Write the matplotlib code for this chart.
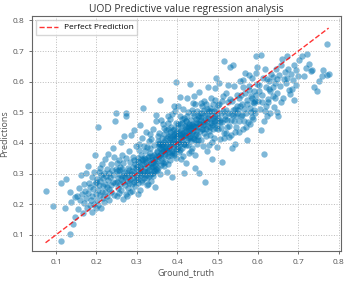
import numpy as np
import matplotlib
matplotlib.use('Agg')
import matplotlib.pyplot as plt

plt.rcParams['font.family'] = ['Open Sans', 'DejaVu Sans']

gt = [
    # 0.07 - 0.15
    0.074, 0.093, 0.111, 0.112, 0.122, 0.125, 0.135, 0.135, 0.137, 0.143, 0.146, 0.148,
    # 0.15 - 0.20
    0.152, 0.155, 0.158, 0.160, 0.162, 0.165, 0.167, 0.168, 0.170, 0.172,
    0.173, 0.175, 0.176, 0.178, 0.180, 0.181, 0.183, 0.185, 0.186, 0.188,
    0.189, 0.190, 0.192, 0.193, 0.195, 0.196, 0.197, 0.198, 0.199, 0.200,
    # 0.20 - 0.25
    0.201, 0.202, 0.203, 0.204, 0.205, 0.206, 0.207, 0.208, 0.209, 0.210,
    0.211, 0.212, 0.213, 0.214, 0.215, 0.216, 0.217, 0.218, 0.219, 0.220,
    0.221, 0.222, 0.224, 0.225, 0.226, 0.227, 0.228, 0.229, 0.230, 0.231,
    0.232, 0.234, 0.235, 0.236, 0.237, 0.238, 0.240, 0.241, 0.242, 0.243,
    0.244, 0.245, 0.246, 0.248, 0.249,
    # 0.25 - 0.30
    0.250, 0.251, 0.252, 0.253, 0.254, 0.255, 0.256, 0.257, 0.258, 0.259,
    0.260, 0.261, 0.262, 0.263, 0.264, 0.265, 0.266, 0.267, 0.268, 0.269,
    0.270, 0.271, 0.272, 0.273, 0.274, 0.274, 0.275, 0.276, 0.277, 0.278,
    0.279, 0.280, 0.281, 0.282, 0.283, 0.284, 0.285, 0.286, 0.287, 0.288,
    0.289, 0.290, 0.291, 0.292, 0.293, 0.294, 0.295, 0.296, 0.297, 0.298,
    0.299, 0.299, 0.276, 0.263, 0.288, 0.257, 0.281, 0.294, 0.268, 0.252,
    # 0.30 - 0.35
    0.300, 0.301, 0.302, 0.303, 0.304, 0.305, 0.306, 0.307, 0.308, 0.309,
    0.310, 0.311, 0.312, 0.313, 0.314, 0.315, 0.316, 0.317, 0.318, 0.319,
    0.320, 0.321, 0.322, 0.323, 0.324, 0.325, 0.326, 0.327, 0.328, 0.329,
    0.330, 0.331, 0.332, 0.333, 0.334, 0.335, 0.336, 0.337, 0.338, 0.339,
    0.340, 0.341, 0.342, 0.343, 0.344, 0.345, 0.346, 0.347, 0.348, 0.349,
    0.302, 0.306, 0.311, 0.316, 0.321, 0.326, 0.331, 0.336, 0.341, 0.346,
    0.304, 0.309, 0.314, 0.319, 0.324, 0.329, 0.334, 0.339, 0.344, 0.348,
    0.303, 0.308, 0.313, 0.318, 0.323, 0.328, 0.333, 0.338, 0.343, 0.347,
    # 0.35 - 0.40
    0.350, 0.351, 0.352, 0.353, 0.354, 0.355, 0.356, 0.357, 0.358, 0.359,
    0.360, 0.361, 0.362, 0.363, 0.364, 0.365, 0.366, 0.367, 0.368, 0.369,
    0.370, 0.371, 0.372, 0.373, 0.374, 0.375, 0.376, 0.377, 0.378, 0.379,
    0.380, 0.381, 0.382, 0.383, 0.384, 0.385, 0.386, 0.387, 0.388, 0.389,
    0.390, 0.391, 0.392, 0.393, 0.394, 0.395, 0.396, 0.397, 0.398, 0.399,
    0.352, 0.357, 0.362, 0.367, 0.372, 0.377, 0.382, 0.387, 0.392, 0.397,
    0.354, 0.359, 0.364, 0.369, 0.374, 0.379, 0.384, 0.389, 0.394, 0.398,
    0.351, 0.356, 0.361, 0.366, 0.371, 0.376, 0.381, 0.386, 0.391, 0.396,
    0.353, 0.358, 0.363, 0.368, 0.373, 0.378, 0.383, 0.388, 0.393, 0.399,
    # 0.40 - 0.45
    0.400, 0.401, 0.402, 0.403, 0.404, 0.405, 0.406, 0.407, 0.408, 0.409,
    0.410, 0.411, 0.412, 0.413, 0.414, 0.415, 0.416, 0.417, 0.418, 0.419,
    0.420, 0.421, 0.422, 0.423, 0.424, 0.425, 0.426, 0.427, 0.428, 0.429,
    0.430, 0.431, 0.432, 0.433, 0.434, 0.435, 0.436, 0.437, 0.438, 0.439,
    0.440, 0.441, 0.442, 0.443, 0.444, 0.445, 0.446, 0.447, 0.448, 0.449,
    0.402, 0.407, 0.412, 0.417, 0.422, 0.427, 0.432, 0.437, 0.442, 0.447,
    0.404, 0.409, 0.414, 0.419, 0.424, 0.429, 0.434, 0.439, 0.444, 0.448,
    0.401, 0.406, 0.411, 0.416, 0.421, 0.426, 0.431, 0.436, 0.441, 0.446,
    0.403, 0.408, 0.413, 0.418, 0.423, 0.428, 0.433, 0.438, 0.443, 0.449,
    # 0.45 - 0.50
    0.450, 0.451, 0.452, 0.453, 0.454, 0.455, 0.456, 0.457, 0.458, 0.459,
    0.460, 0.461, 0.462, 0.463, 0.464, 0.465, 0.466, 0.467, 0.468, 0.469,
    0.470, 0.471, 0.472, 0.473, 0.474, 0.475, 0.476, 0.477, 0.478, 0.479,
    0.480, 0.481, 0.482, 0.483, 0.484, 0.485, 0.486, 0.487, 0.488, 0.489,
    0.490, 0.491, 0.492, 0.493, 0.494, 0.495, 0.496, 0.497, 0.498, 0.499,
    0.452, 0.457, 0.462, 0.467, 0.472, 0.477, 0.482, 0.487, 0.492, 0.497,
    0.454, 0.459, 0.464, 0.469, 0.474, 0.479, 0.484, 0.489, 0.494, 0.498,
    # 0.50 - 0.55
    0.500, 0.502, 0.504, 0.506, 0.508, 0.510, 0.512, 0.514, 0.516, 0.518,
    0.520, 0.522, 0.524, 0.526, 0.528, 0.530, 0.532, 0.534, 0.536, 0.538,
    0.540, 0.542, 0.544, 0.546, 0.548, 0.501, 0.505, 0.509, 0.513, 0.517,
    0.521, 0.525, 0.529, 0.533, 0.537, 0.541, 0.545, 0.549, 0.503, 0.511,
    0.519, 0.527, 0.535, 0.543, 0.547, 0.507, 0.515, 0.523, 0.531, 0.539,
    # 0.55 - 0.60
    0.550, 0.552, 0.554, 0.556, 0.558, 0.560, 0.562, 0.564, 0.566, 0.568,
    0.570, 0.572, 0.574, 0.576, 0.578, 0.580, 0.582, 0.584, 0.586, 0.588,
    0.590, 0.592, 0.594, 0.596, 0.598, 0.553, 0.557, 0.561, 0.565, 0.569,
    0.573, 0.577, 0.581, 0.585, 0.589, 0.593, 0.597, 0.555, 0.563, 0.571,
    0.579, 0.587, 0.595, 0.583, 0.591,
    # 0.60 - 0.65
    0.600, 0.603, 0.606, 0.608, 0.611, 0.614, 0.616, 0.619, 0.622, 0.625,
    0.627, 0.630, 0.633, 0.636, 0.639, 0.642, 0.645, 0.647, 0.649, 0.602,
    0.607, 0.612, 0.617, 0.621, 0.626, 0.631, 0.637, 0.641, 0.646, 0.609,
    0.618, 0.628, 0.638, 0.648, 0.623,
    # 0.65 - 0.70
    0.651, 0.655, 0.658, 0.660, 0.662, 0.665, 0.668, 0.670, 0.672, 0.675,
    0.678, 0.680, 0.683, 0.685, 0.687, 0.690, 0.693, 0.695, 0.698, 0.657,
    0.673, 0.688,
    # 0.70 - 0.78
    0.702, 0.709, 0.713, 0.718, 0.721, 0.726, 0.731, 0.734, 0.738, 0.746,
    0.752, 0.758, 0.761, 0.771, 0.771, 0.775,
]

pred = [
    # 0.07 - 0.15
    0.243, 0.194, 0.269, 0.081, 0.186, 0.283, 0.103, 0.240, 0.207, 0.134, 0.158, 0.222,
    # 0.15 - 0.20
    0.226, 0.185, 0.252, 0.212, 0.296, 0.233, 0.172, 0.265, 0.205, 0.244,
    0.303, 0.221, 0.188, 0.323, 0.237, 0.270, 0.196, 0.255, 0.214, 0.288,
    0.228, 0.176, 0.248, 0.306, 0.201, 0.265, 0.361, 0.232, 0.187, 0.274,
    # 0.20 - 0.25
    0.214, 0.283, 0.451, 0.246, 0.198, 0.305, 0.262, 0.229, 0.318, 0.276,
    0.187, 0.294, 0.241, 0.332, 0.258, 0.221, 0.285, 0.301, 0.208, 0.267,
    0.346, 0.239, 0.292, 0.255, 0.316, 0.226, 0.278, 0.363, 0.249, 0.301,
    0.214, 0.288, 0.330, 0.262, 0.240, 0.312, 0.384, 0.273, 0.296, 0.230,
    0.355, 0.268, 0.473, 0.314, 0.498,
    # 0.25 - 0.30
    0.271, 0.226, 0.309, 0.254, 0.287, 0.345, 0.238, 0.298, 0.322, 0.266,
    0.402, 0.281, 0.247, 0.315, 0.293, 0.218, 0.336, 0.274, 0.305, 0.421,
    0.262, 0.289, 0.351, 0.233, 0.487, 0.499, 0.301, 0.276, 0.318, 0.254,
    0.294, 0.372, 0.312, 0.241, 0.283, 0.338, 0.297, 0.425, 0.265, 0.309,
    0.286, 0.353, 0.322, 0.274, 0.441, 0.302, 0.331, 0.258, 0.296, 0.389,
    0.317, 0.279, 0.227, 0.362, 0.244, 0.313, 0.268, 0.345, 0.292, 0.335,
    # 0.30 - 0.35
    0.325, 0.288, 0.352, 0.311, 0.269, 0.338, 0.396, 0.301, 0.247, 0.322,
    0.362, 0.295, 0.331, 0.278, 0.415, 0.515, 0.343, 0.307, 0.284, 0.351,
    0.319, 0.372, 0.296, 0.337, 0.262, 0.305, 0.388, 0.329, 0.353, 0.291,
    0.343, 0.313, 0.428, 0.366, 0.298, 0.334, 0.275, 0.357, 0.321, 0.446,
    0.338, 0.301, 0.362, 0.392, 0.327, 0.256, 0.349, 0.315, 0.471, 0.371,
    0.341, 0.377, 0.316, 0.299, 0.346, 0.284, 0.356, 0.412, 0.326, 0.308,
    0.283, 0.306, 0.348, 0.330, 0.309, 0.407, 0.320, 0.292, 0.355, 0.336,
    0.233, 0.457, 0.271, 0.389, 0.435, 0.267, 0.382, 0.344, 0.307, 0.492,
    # 0.35 - 0.40
    0.372, 0.341, 0.405, 0.318, 0.389, 0.356, 0.431, 0.298, 0.539, 0.367,
    0.394, 0.352, 0.417, 0.381, 0.336, 0.462, 0.375, 0.403, 0.326, 0.385,
    0.411, 0.364, 0.442, 0.395, 0.305, 0.378, 0.421, 0.357, 0.487, 0.398,
    0.371, 0.415, 0.343, 0.435, 0.392, 0.451, 0.366, 0.408, 0.289, 0.424,
    0.387, 0.447, 0.412, 0.362, 0.503, 0.425, 0.598, 0.379, 0.436, 0.401,
    0.358, 0.383, 0.341, 0.428, 0.388, 0.445, 0.402, 0.373, 0.428, 0.466,
    0.401, 0.328, 0.372, 0.357, 0.416, 0.382, 0.359, 0.441, 0.395, 0.352,
    0.312, 0.395, 0.476, 0.392, 0.339, 0.466, 0.427, 0.496, 0.368, 0.418,
    0.424, 0.362, 0.398, 0.448, 0.378, 0.331, 0.478, 0.403, 0.522, 0.381,
    # 0.40 - 0.45
    0.418, 0.386, 0.452, 0.404, 0.371, 0.433, 0.489, 0.395, 0.427, 0.348,
    0.441, 0.407, 0.382, 0.466, 0.424, 0.512, 0.398, 0.437, 0.301, 0.455,
    0.426, 0.471, 0.393, 0.438, 0.409, 0.548, 0.453, 0.417, 0.366, 0.443,
    0.462, 0.421, 0.593, 0.448, 0.406, 0.476, 0.433, 0.384, 0.497, 0.455,
    0.438, 0.487, 0.413, 0.361, 0.451, 0.526, 0.429, 0.468, 0.396, 0.442,
    0.403, 0.463, 0.429, 0.481, 0.451, 0.392, 0.415, 0.508, 0.456, 0.477,
    0.437, 0.415, 0.358, 0.425, 0.489, 0.432, 0.458, 0.416, 0.318, 0.503,
    0.522, 0.376, 0.478, 0.447, 0.335, 0.502, 0.441, 0.462, 0.554, 0.409,
    0.461, 0.549, 0.418, 0.397, 0.473, 0.456, 0.374, 0.531, 0.427, 0.466,
    # 0.45 - 0.50
    0.452, 0.488, 0.421, 0.567, 0.465, 0.302, 0.438, 0.497, 0.474, 0.411,
    0.483, 0.445, 0.522, 0.467, 0.389, 0.458, 0.509, 0.433, 0.476, 0.272,
    0.462, 0.528, 0.447, 0.493, 0.372, 0.471, 0.584, 0.456, 0.505, 0.438,
    0.478, 0.425, 0.513, 0.466, 0.548, 0.491, 0.347, 0.459, 0.482, 0.527,
    0.464, 0.503, 0.416, 0.487, 0.539, 0.449, 0.475, 0.611, 0.494, 0.386,
    0.408, 0.463, 0.497, 0.536, 0.421, 0.481, 0.453, 0.404, 0.472, 0.512,
    0.486, 0.529, 0.447, 0.491, 0.512, 0.394, 0.504, 0.445, 0.578, 0.458,
    # 0.50 - 0.55
    0.481, 0.446, 0.527, 0.412, 0.499, 0.339, 0.468, 0.552, 0.666, 0.487,
    0.432, 0.508, 0.474, 0.589, 0.455, 0.647, 0.493, 0.426, 0.536, 0.656,
    0.471, 0.512, 0.398, 0.488, 0.558, 0.523, 0.476, 0.449, 0.503, 0.417,
    0.562, 0.497, 0.418, 0.474, 0.509, 0.586, 0.452, 0.497, 0.595, 0.537,
    0.478, 0.532, 0.383, 0.436, 0.521, 0.468, 0.431, 0.451, 0.545, 0.492,
    # 0.55 - 0.60
    0.506, 0.471, 0.548, 0.603, 0.489, 0.526, 0.447, 0.581, 0.512, 0.629,
    0.497, 0.408, 0.541, 0.468, 0.587, 0.515, 0.552, 0.486, 0.612, 0.534,
    0.571, 0.498, 0.629, 0.685, 0.647, 0.435, 0.557, 0.492, 0.473, 0.564,
    0.527, 0.574, 0.463, 0.548, 0.507, 0.536, 0.592, 0.519, 0.604, 0.452,
    0.623, 0.477, 0.558, 0.501, 0.529,
    # 0.60 - 0.65
    0.537, 0.589, 0.512, 0.688, 0.556, 0.471, 0.364, 0.521, 0.608, 0.544,
    0.576, 0.498, 0.626, 0.552, 0.517, 0.595, 0.641, 0.563, 0.487, 0.571,
    0.443, 0.613, 0.505, 0.582, 0.534, 0.568, 0.615, 0.547, 0.500, 0.532,
    0.642, 0.603, 0.583, 0.609, 0.489,
    # 0.65 - 0.70
    0.623, 0.587, 0.655, 0.675, 0.548, 0.610, 0.632, 0.596, 0.685, 0.641,
    0.573, 0.560, 0.625, 0.577, 0.604, 0.653, 0.637, 0.589, 0.619, 0.534,
    0.612, 0.539,
    # 0.70 - 0.78
    0.672, 0.685, 0.620, 0.645, 0.691, 0.657, 0.634, 0.637, 0.582, 0.571,
    0.603, 0.620, 0.637, 0.723, 0.623, 0.625,
]

title = 'UOD Predictive value regression analysis'


def main():
    y_true = np.array(gt)
    y_pred = np.array(pred)

    fig = plt.figure(figsize=(3.46, 2.83), dpi=100)
    ax = fig.add_axes([0.092, 0.113, 0.894, 0.83])

    ax.scatter(y_true, y_pred, s=21, c='#0173b2', alpha=0.5, linewidths=0)
    lo, hi = y_true.min(), y_true.max()
    ax.plot([lo, hi], [lo, hi], 'r--', lw=1, alpha=0.8, label='Perfect Prediction')

    ax.set_xlim(0.04, 0.806)
    ax.set_ylim(0.047, 0.814)
    ax.set_xticks(np.arange(0.1, 0.81, 0.1))
    ax.set_yticks(np.arange(0.1, 0.81, 0.1))
    ax.grid(True, linestyle=':', color='#bbbbbb', lw=0.7)
    for sp in ax.spines.values():
        sp.set_color('#666666')
    ax.tick_params(labelsize=6, colors='#555555', length=2, width=0.6)

    ax.set_xlabel('Ground_truth', fontsize=6.5, color='#555555', labelpad=2)
    ax.set_ylabel('Predictions', fontsize=6.5, color='#555555', labelpad=2)
    ax.set_title(title, fontsize=7.4, color='#333333', pad=3)
    ax.legend(loc='upper left', fontsize=6, frameon=True, borderpad=0.4,
              handlelength=2.2, fancybox=False, edgecolor='#cccccc')

    fig.savefig('out.png', dpi=100)


if __name__ == '__main__':
    main()
